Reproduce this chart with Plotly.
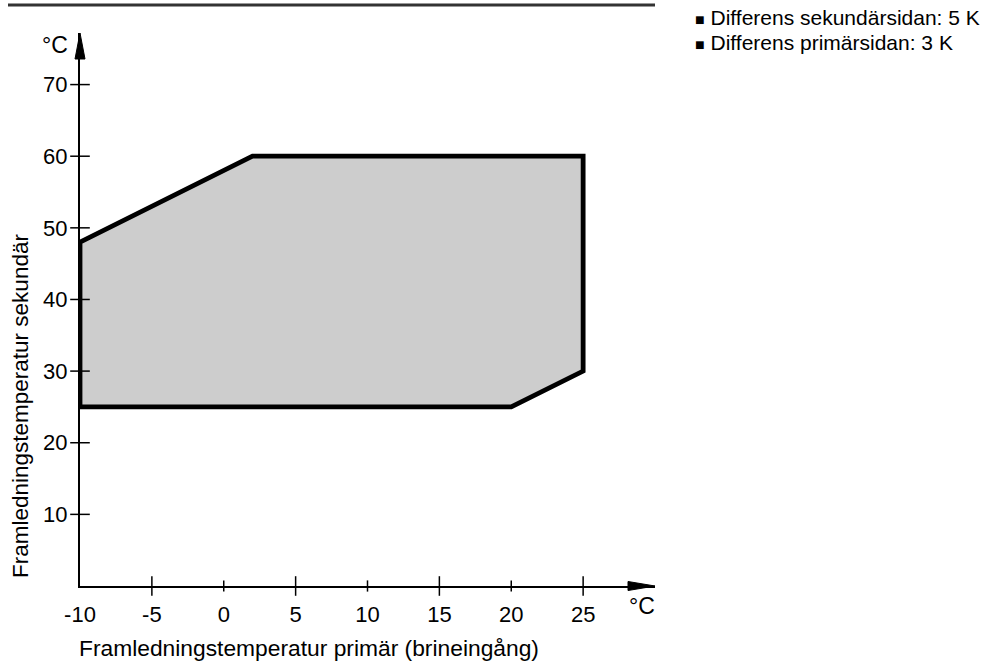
import plotly.graph_objects as go

# Operating envelope polygon (primary inlet temp, secondary flow temp)
env_x = [-10, -10, 2, 25, 25, 20, -10]
env_y = [25, 48, 60, 60, 30, 25, 25]

x_ticks = [-10, -5, 0, 5, 10, 15, 20, 25]
x_long = [-5, 5, 15, 25]
x_short = [0, 10, 20]
y_ticks = [10, 20, 30, 40, 50, 60, 70]

x_title = "Framledningstemperatur primär (brineingång)"
y_title = "Framledningstemperatur sekundär"
notes = ["Differens sekundärsidan: 5 K", "Differens primärsidan: 3 K"]

X_RANGE = [-10, 30]
Y_RANGE = [0, 77.2]
FONT = "Liberation Sans, Arial, sans-serif"

PW, PH = 575, 553  # plot area size in px

fig = go.Figure()
fig.add_trace(go.Scatter(
    x=env_x, y=env_y, mode="lines", fill="toself",
    fillcolor="#cdcdcd", line=dict(color="#000000", width=4.8),
    hoverinfo="skip", showlegend=False,
))

# tick marks crossing the axes (markers, not clipped)
def tick_trace(xs, ys, symbol, size):
    return go.Scatter(x=xs, y=ys, mode="markers", cliponaxis=False,
                      marker=dict(symbol=symbol, size=size,
                                  line=dict(color="#000", width=1.5)),
                      hoverinfo="skip", showlegend=False)

fig.add_trace(tick_trace(x_long, [0] * len(x_long), "line-ns", 14))
fig.add_trace(tick_trace(x_short, [0] * len(x_short), "line-ns", 8))
fig.add_trace(tick_trace([X_RANGE[0]] * len(y_ticks), y_ticks, "line-ew", 14))

shapes = [
    # arrow heads (paper refs so they are not clipped)
    dict(type="path", xref="paper", yref="paper", xsizemode="pixel", ysizemode="pixel",
         xanchor=0, yanchor=1, path="M 0,0 L -5,-26 L 5,-26 Z",
         fillcolor="#000", line=dict(color="#000", width=1)),
    dict(type="path", xref="paper", yref="paper", xsizemode="pixel", ysizemode="pixel",
         xanchor=1, yanchor=0, path="M 0,0 L -27,-4.5 L -27,4.5 Z",
         fillcolor="#000", line=dict(color="#000", width=1)),
    # top rule
    dict(type="line", xref="paper", yref="paper",
         x0=-72/PW, x1=1.0, y0=1 + 28/PH, y1=1 + 28/PH,
         line=dict(color="#333333", width=3)),
]

annotations = [
    dict(text="°C", xref="paper", yref="paper", x=-10/PW, y=1 - 12/PH,
         xanchor="right", yanchor="middle", showarrow=False, font=dict(size=23)),
    dict(text="°C", xref="paper", yref="paper", x=1 - 28/PW, y=-20/PH,
         xanchor="left", yanchor="middle", showarrow=False, font=dict(size=23)),
    dict(text=x_title, xref="paper", yref="paper", x=-3/PW, y=-62/PH,
         xanchor="left", yanchor="middle", showarrow=False, font=dict(size=22.8)),
    dict(text=y_title, xref="paper", yref="paper", x=-60/PW, y=(586 - 406)/PH,
         xanchor="center", yanchor="middle", textangle=-90, showarrow=False,
         font=dict(size=22.5)),
]
for i, t in enumerate(notes):
    annotations.append(dict(
        text="<span style='font-size:16px'>■</span> " + t,
        xref="paper", yref="paper", x=(693 - 80)/PW,
        y=(586 - (17 + 26 * i))/PH, xanchor="left", yanchor="middle",
        showarrow=False, font=dict(size=21)))

fig.update_layout(
    width=992, height=669,
    margin=dict(l=80, r=337, t=33, b=83),
    paper_bgcolor="white", plot_bgcolor="white",
    font=dict(family=FONT, color="#000", size=22),
    showlegend=False,
    shapes=shapes, annotations=annotations,
    xaxis=dict(range=X_RANGE, tickvals=x_ticks, ticktext=[str(v) for v in x_ticks],
               showgrid=False, zeroline=False, showline=True, linecolor="#000",
               linewidth=2, ticks="outside", ticklen=8, tickcolor="rgba(0,0,0,0)",
               tickfont=dict(size=22), automargin=False, layer="below traces"),
    yaxis=dict(range=Y_RANGE, tickvals=y_ticks, ticktext=[str(v) for v in y_ticks],
               showgrid=False, zeroline=False, showline=True, linecolor="#000",
               linewidth=2, ticks="outside", ticklen=6, tickcolor="rgba(0,0,0,0)",
               tickfont=dict(size=22), automargin=False, layer="below traces"),
)

# remove the default 8px page margin so the figure sits at the window's corner
fig.write_html("out.html", config={"displayModeBar": False},
               post_script="document.body.style.margin='0';")
